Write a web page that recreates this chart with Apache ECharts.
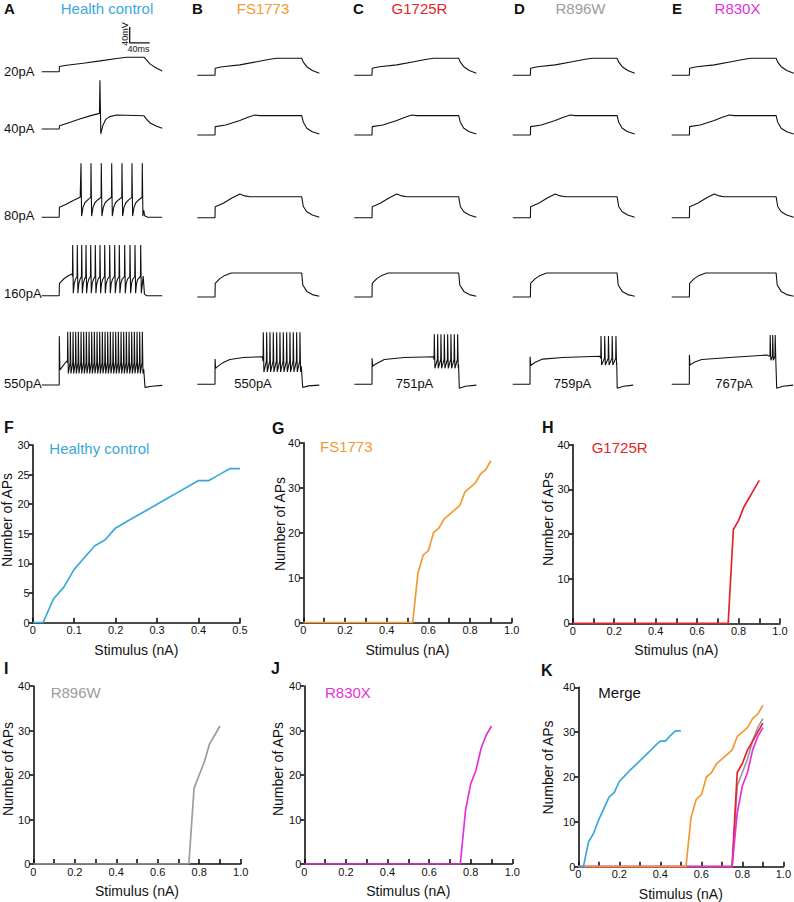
<!DOCTYPE html>
<html><head><meta charset="utf-8">
<script src="https://cdn.jsdelivr.net/npm/echarts@6/dist/echarts.min.js"></script>
<style>html,body{margin:0;padding:0;background:#fff}#c{width:794px;height:902px}</style>
</head><body><div id="c"></div>
<script>
// ================= DATA =================
// Current-clamp sweeps: [time ms from sweep start, membrane potential mV]
const rowLabels = ['20pA','40pA','80pA','160pA','550pA'];
const rheoLabels = ['550pA','751pA','759pA','767pA'];
const groupNames = ['Health control','FS1773','G1725R','R896W','R830X'];
const panelLetters = ['A','B','C','D','E'];

// Health control
const tA20 = [[0,-70],[35,-70],[35.5,-57],[50,-54],[83,-49],[117,-43],[150,-37],[170,-34],[205,-34],[210,-41],[217,-51],[230,-61.5],[241,-68]];
const tA40 = [[0,-70],[35,-70],[35.5,-62],[50,-56],[76,-45],[100,-36],[115.5,-31],[116.5,52],[118.2,-82],[122,-62],[128,-46],[136,-39],[150,-35],[204.6,-37],[210,-46],[217,-55],[230,-63],[241,-68]];
const preA80 = [[0,-70],[35,-70],[35.5,-45],[50,-37],[65,-27],[77,-20]];
const spA80 = [78.6,98.6,119.2,140,160.6,180.6,201.2];
const lvA80 = [65,-67,-20];           // peak, trough, threshold
const recA80 = [[4,-45],[8,-33],[14,-26]];
const postA80 = [[204,-52],[206,-66],[212,-70],[241,-70]];
const preA160 = [[0,-70],[35,-70],[35.5,-39],[45,-27],[55,-19],[61,-15]];
const spA160 = [62,71.2,80,88.6,98,107.2,116.6,126,136,146,155.2,166,176.6,186.6,198];
const lvA160 = [57,-64,-22];
const recA160 = [[3,-40],[5.5,-29]];
const postA160 = [[203,-21],[205.5,-66],[210,-70],[241,-70]];
const preA550 = [[0,-70],[35,-70],[35.2,52],[36.4,-32],[50,-10]];
const spA550 = [52,57.3,62.7,68,73.3,78.7,84,89.3,94.7,100,105.3,110.7,116,121.3,126.7,132,137.3,142.7,148,153.3,158.7,164,169.3,174.7,180,185.3,190.7,196,201.3];
const lvA550 = [63,-41,-14];
const postA550 = [[204,-30],[206.6,-76],[220,-73],[241,-71]];

// Patient lines, subthreshold sweeps (same for B-E)
const tM20 = [[0,-70],[35.4,-70],[35.8,-52.5],[50,-48.5],[85,-44],[119,-36],[145,-30],[159,-27.5],[208.8,-27.5],[212,-37],[219,-48.5],[230,-58],[244,-65]];
const tM40 = [[0,-70],[35.4,-70],[35.8,-49],[57,-45],[85,-34],[100,-26],[115,-20],[125,-21.5],[208.8,-21.5],[212,-38],[219,-53],[230,-62],[244,-67.5]];
const tM80 = [[0,-70],[35.4,-70],[35.8,-42.5],[52,-34],[70,-20],[85,-11],[95,-15.5],[105,-17.5],[208.8,-17.5],[212,-42],[219,-55],[230,-63],[244,-69]];
const tM160 = [[0,-70],[35.4,-70],[35.8,-36],[45,-24],[55,-16],[68,-10],[208.8,-10],[211,-40],[219,-56],[230,-64],[244,-68]];

// Rheobase-level sweeps of patient lines
const preB550 = [[0,-70],[35.4,-70],[35.6,-7],[36.6,-30],[39,-27],[50,-17],[65,-8],[92,-3],[130,-1]];
const spB550 = [132,138.7,145.3,152,158.7,165.3,172,178.7,185.3,192,198.7,205.3];
const lvB550 = [60,-39,-12];
const postB550 = [[208,-25],[210.8,-78],[222,-74],[244,-72]];
const preC751 = [[0,-70],[35.4,-70],[35.6,-5],[36.6,-25],[42,-20],[60,-8],[100,-3],[158,-1]];
const spC751 = [160,166.7,173.3,180,186.7,193.3,200,206.7];
const lvC751 = [55,-30,-8];
const postC751 = [[208.5,-20],[210,-80],[222,-75],[244,-72]];
const preD759 = [[0,-70],[34.6,-70],[34.8,-1],[36,-23],[45,-15],[60,-7],[100,-3],[174,0]];
const spD759 = [176.6,184,191.5,199,206.5];
const lvD759 = [51,-22,-5];
const postD759 = [[208,-15],[209,-80],[222,-75],[241,-72]];
const preE767 = [[0,-70],[35.2,-70],[35.4,3],[36.5,-22],[45,-15],[60,-8],[123,-2.5],[190,3]];
const spE767 = [197,202,207];
const lvE767 = [53,-10,0];
const postE767 = [[208.5,-10],[210,-80],[222,-75],[243,-72]];

// Scale bar (40 ms / 40 mV) in sweep units
const scaleBar = [[216,2],[176,2],[176,42]];

// F-I curves: stimulus (nA) vs number of APs
const stimHC = [0,0.025,0.05,0.075,0.1,0.125,0.15,0.175,0.2,0.225,0.25,0.275,0.3,0.325,0.35,0.375,0.4,0.425,0.45,0.475,0.5];
const apsHC = [0,0,4,6,9,11,13,14,16,17,18,19,20,21,22,23,24,24,25,26,26];
const apsHCMerge = [0,0,5.5,7.5,10.5,13,15.5,16.5,19,20.2,21.4,22.5,23.6,24.7,25.8,27,28,28,29.3,30.3,30.3];
const stimFS = [0,0.525,0.55,0.575,0.6,0.625,0.65,0.675,0.7,0.725,0.75,0.775,0.8,0.825,0.85,0.875,0.9];
const apsFS = [0,0,11,15,16,20,21,23,24,25,26,29,30,31,33,34,36];
const stimMut = [0,0.75,0.775,0.8,0.825,0.85,0.875,0.9];
const apsG1725R = [0,0,21,23,26,28,30,32];
const apsR896W = [0,0,17,20,23,27,29,31];
const apsR896WMerge = [0,0,18,21,24,28,31,33];
const apsR830X = [0,0,12,18,21,26,29,31];

// ================= LAYOUT / STYLE =================
const FONT = '"Liberation Sans", Arial, sans-serif';
const colHC = '#3AA8DA', colFS = '#F39A33', colG = '#E3252B', colR896 = '#9C9C9C', colR830 = '#E331DE';
const groupColors = [colHC, colFS, colG, colR896, colR830];
const colX = [41.7, 197.3, 354.3, 512.7, 671.7];
const baseYA = [71.7, 129, 217.3, 295.7, 385];
const baseYM = [75.3, 135, 217.7, 297, 384.3];

function sweep(pre, spikes, lv, rec, post) {
  const pts = pre.slice();
  spikes.forEach((s, i) => {
    const n = spikes[i + 1];
    pts.push([s - 0.5, lv[2]], [s, lv[0]], [s + 1.2, lv[1]]);
    if (n !== undefined && rec) rec.forEach(([d, v]) => { if (s + d < n - 0.6) pts.push([s + d, v]); });
  });
  return pts.concat(post);
}

const traces = [
  [tA20, tM20, tM20, tM20, tM20],
  [tA40, tM40, tM40, tM40, tM40],
  [sweep(preA80, spA80, lvA80, recA80, postA80), tM80, tM80, tM80, tM80],
  [sweep(preA160, spA160, lvA160, recA160, postA160), tM160, tM160, tM160, tM160],
  [sweep(preA550, spA550, lvA550, null, postA550),
   sweep(preB550, spB550, lvB550, null, postB550),
   sweep(preC751, spC751, lvC751, null, postC751),
   sweep(preD759, spD759, lvD759, null, postD759),
   sweep(preE767, spE767, lvE767, null, postE767)]
];

const grid = [], xAxis = [], yAxis = [], series = [];
let gi = 0;
for (let r = 0; r < 5; r++) {
  for (let c = 0; c < 5; c++) {
    const by = c === 0 ? baseYA[r] : baseYM[r];
    grid.push({left: colX[c], top: by - 56, width: 122, height: 64});
    xAxis.push({type: 'value', gridIndex: gi, min: 0, max: 244, show: false});
    yAxis.push({type: 'value', gridIndex: gi, min: -90, max: 70, show: false});
    series.push({type: 'line', xAxisIndex: gi, yAxisIndex: gi, data: traces[r][c], symbol: 'none',
      lineStyle: {color: '#111', width: 1.1}, silent: true, animation: false, z: 2});
    if (r === 0 && c === 0) {
      series.push({type: 'line', xAxisIndex: gi, yAxisIndex: gi, data: scaleBar, symbol: 'none',
        lineStyle: {color: '#111', width: 1.3}, silent: true, animation: false});
    }
    gi++;
  }
}

function xFmt(half) {
  return v => {
    const k = Math.round(v * 10);
    if (!half && k % 2) return '';
    if (k === 0) return '0';
    if (k === 10) return '1.0';
    return (k / 10).toString();
  };
}
function zip(xs, ys) { return xs.map((x, i) => [x, ys[i]]); }

const panels = [
  {rect: [32.7, 445, 207.3, 177.7], xmax: 0.5, ymax: 30, yint: 5, half: true,
   lines: [[stimHC, apsHC, colHC]]},
  {rect: [303.3, 442.7, 208.4, 180], xmax: 1, ymax: 40, yint: 10,
   lines: [[stimFS, apsFS, colFS]]},
  {rect: [572.7, 444.7, 207.3, 178.6], xmax: 1, ymax: 40, yint: 10,
   lines: [[stimMut, apsG1725R, colG]]},
  {rect: [33.3, 686, 207.4, 178], xmax: 1, ymax: 40, yint: 10,
   lines: [[stimMut, apsR896W, colR896]]},
  {rect: [304.3, 686, 208, 178], xmax: 1, ymax: 40, yint: 10,
   lines: [[stimMut, apsR830X, colR830]]},
  {rect: [578.3, 687.3, 206.7, 179.4], xmax: 1, ymax: 40, yint: 10,
   lines: [[stimMut, apsR896WMerge, colR896], [stimMut, apsG1725R, colG], [stimMut, apsR830X, colR830],
           [stimFS, apsFS, colFS], [stimHC, apsHCMerge, colHC]]}
];
panels.forEach(p => {
  const [l, t, w, h] = p.rect;
  grid.push({left: l, top: t, width: w, height: h});
  xAxis.push({type: 'value', gridIndex: gi, min: 0, max: p.xmax, interval: 0.1,
    axisLine: {lineStyle: {color: '#111', width: 1.6}},
    axisTick: {inside: true, length: 5, lineStyle: {color: '#111', width: 1.6}},
    axisLabel: {color: '#111', fontSize: 11, margin: 2, formatter: xFmt(p.half), fontFamily: FONT},
    splitLine: {show: false},
    name: 'Stimulus (nA)', nameLocation: 'middle', nameGap: 20,
    nameTextStyle: {color: '#111', fontSize: 14, fontFamily: FONT}});
  yAxis.push({type: 'value', gridIndex: gi, min: 0, max: p.ymax, interval: p.yint,
    axisLine: {show: true, lineStyle: {color: '#111', width: 1.6}},
    axisTick: {show: true, inside: false, length: 4, lineStyle: {color: '#111', width: 1.6}},
    axisLabel: {color: '#111', fontSize: 11, margin: 3, fontFamily: FONT},
    splitLine: {show: false}});
  p.lines.forEach(([xs, ys, col]) => {
    series.push({type: 'line', xAxisIndex: gi, yAxisIndex: gi, data: zip(xs, ys), symbol: 'none',
      lineStyle: {color: col, width: 1.7}, silent: true, animation: false, z: 3});
  });
  gi++;
});

// ================= TEXT =================
const graphic = [];
function txt(text, x, y, opt) {
  opt = opt || {};
  const st = {text, x: 0, y: 0, fill: opt.color || '#111',
    font: (opt.bold ? 'bold ' : '') + (opt.size || 13) + 'px ' + FONT,
    align: opt.align || 'left', textAlign: opt.align || 'left',
    verticalAlign: 'middle', textVerticalAlign: 'middle'};
  graphic.push({type: 'text', x, y, rotation: opt.rot || 0, style: st, silent: true});
}
const letterX = [4, 192, 353, 514, 672];
const headX = [107, 263, 419.5, 580.5, 737.5];
for (let c = 0; c < 5; c++) {
  txt(panelLetters[c], letterX[c], 8, {bold: true, size: 15});
  txt(groupNames[c], headX[c], 8, {size: 15, color: groupColors[c], align: 'center'});
}
const rowLabY = [71, 128, 215, 293, 383];
rowLabels.forEach((s, i) => txt(s, 4, rowLabY[i], {size: 13}));
const rheoX = [253, 414.5, 572.5, 734];
rheoLabels.forEach((s, i) => txt(s, rheoX[i], 383, {size: 13, align: 'center'}));
txt('40mV', 124.5, 34, {size: 9, rot: Math.PI / 2, align: 'center'});
txt('40ms', 138.5, 48.5, {size: 9, align: 'center'});

// bottom panels
txt('F', 4, 427, {bold: true, size: 16});
txt('G', 272, 428, {bold: true, size: 16});
txt('H', 542, 427, {bold: true, size: 16});
txt('I', 4, 668, {bold: true, size: 16});
txt('J', 271, 668, {bold: true, size: 16});
txt('K', 541, 670, {bold: true, size: 16});
txt('Healthy control', 49.3, 448, {size: 15, color: colHC});
txt('FS1773', 320, 446, {size: 15, color: colFS});
txt('G1725R', 591.7, 447, {size: 15, color: colG});
txt('R896W', 50.7, 692, {size: 15, color: colR896});
txt('R830X', 325, 692, {size: 15, color: colR830});
txt('Merge', 598.3, 692, {size: 15});
const yTitlePos = [[7, 520], [280, 524], [547.5, 519], [8, 769], [277.5, 769], [547.5, 767.5]];
yTitlePos.forEach(([x, y]) => txt('Number of APs', x, y, {size: 14, rot: Math.PI / 2, align: 'center'}));

const chart = echarts.init(document.getElementById('c'), null, {renderer: 'svg', width: 794, height: 902});
chart.setOption({
  animation: false,
  backgroundColor: '#fff',
  textStyle: {fontFamily: FONT},
  grid, xAxis, yAxis, series, graphic
});
</script>
</body></html>
